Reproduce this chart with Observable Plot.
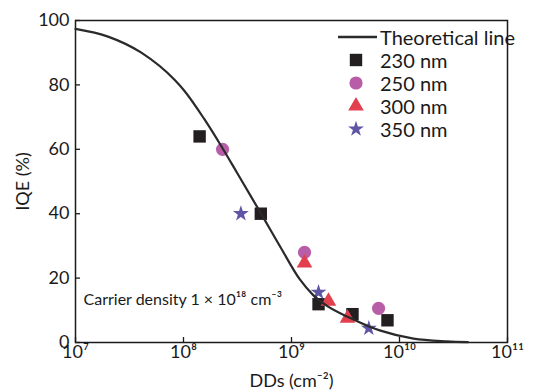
<!DOCTYPE html>
<html><head><meta charset="utf-8">
<script src="https://cdn.jsdelivr.net/npm/d3@7"></script>
<script src="https://cdn.jsdelivr.net/npm/@observablehq/plot@0.6"></script>
<style>
body{margin:0;background:#fff;font-family:Lato,"Liberation Sans",sans-serif;}
#wrap{position:relative;width:542px;height:392px;}
#legend{position:absolute;left:336px;top:25px;font-size:20px;color:#1a1a1a;}
.row{position:absolute;left:0;height:23px;display:flex;align-items:center;white-space:nowrap;}
.row svg{display:block;}
</style></head><body><div id="wrap"></div>
<script>
const xTicks = [1e7, 1e8, 1e9, 1e10, 1e11];
const xTickLabels = ["10⁷", "10⁸", "10⁹", "10¹⁰", "10¹¹"];
const yTicks = [0, 20, 40, 60, 80, 100];

const seriesNames = ["230 nm", "250 nm", "300 nm", "350 nm"];
const seriesSymbols = ["square", "circle", "triangle", "star"];
const seriesColors = ["#231f20", "#b85ea9", "#e2404e", "#5f55a6"];

const dd230 = [1.41e8, 5.2e8, 1.78e9, 3.67e9, 7.74e9];
const iqe230 = [64, 40, 11.9, 8.8, 6.9];
const dd250 = [2.3e8, 1.32e9, 6.4e9];
const iqe250 = [60, 28, 10.6];
const dd300 = [1.32e9, 2.2e9, 3.3e9];
const iqe300 = [24.7, 12.8, 7.5];
const dd350 = [3.4e8, 1.78e9, 5.2e9];
const iqe350 = [40, 15.6, 4.4];

const theoryDD  = [1e7, 2.0e7, 4.07e7, 8.3e7, 1e8, 1.55e8, 2.19e8, 3.16e8, 5.13e8, 7.94e8, 1.2e9, 1.58e9, 2.0e9, 3.55e9, 5.37e9, 6.67e9, 1.35e10, 2.75e10, 4.3e10];
const theoryIQE = [97.4, 95, 90, 81.5, 78.5, 69.5, 61.5, 52.5, 40.5, 29.5, 19.5, 14.8, 12, 7.5, 4.8, 3.7, 1.2, 0.35, 0.1];

const annotation = "Carrier density 1 × 10¹⁸ cm⁻³";

const toRows = (xs, ys) => xs.map((x, i) => ({x, y: ys[i]}));
const series = [toRows(dd230, iqe230), toRows(dd250, iqe250), toRows(dd300, iqe300), toRows(dd350, iqe350)];
const theory = toRows(theoryDD, theoryIQE);
const radii = [7.0, 6.6, 5.8, 5.0];

const W = 542, H = 392, mL = 75, mR = 35, mT = 20, mB = 50;
const plotW = W - mL - mR, plotH = H - mT - mB;

const chart = Plot.plot({
  width: W, height: H,
  marginLeft: mL, marginRight: mR, marginTop: mT, marginBottom: mB,
  style: {fontSize: "18px", fontFamily: "Lato, 'Liberation Sans', sans-serif", color: "#1a1a1a", background: "#fff"},
  x: {type: "log", domain: [1e7, 1e11]},
  y: {domain: [0, 100]},
  marks: [
    Plot.frame({stroke: "#1a1a1a", strokeWidth: 1.5}),
    Plot.tickX(xTicks, {x: d => d, insetTop: plotH - 5, stroke: "#1a1a1a", strokeWidth: 1.3}),
    Plot.tickY(yTicks, {y: d => d, insetRight: plotW - 5, stroke: "#1a1a1a", strokeWidth: 1.3}),
    Plot.axisX({ticks: xTicks, tickSize: 0, tickPadding: 3, tickFormat: d => xTickLabels[xTicks.indexOf(d)],
      label: "DDs (cm⁻²)", labelAnchor: "center", labelOffset: 44, labelArrow: "none"}),
    Plot.axisY({ticks: yTicks, tickSize: 0, tickPadding: 6, tickFormat: d => String(d),
      label: "IQE (%)", labelAnchor: "center", labelOffset: 59, labelArrow: "none"}),
    ...series.map((data, i) => Plot.dot(data, {x: "x", y: "y", symbol: () => seriesSymbols[i], r: radii[i], fill: seriesColors[i], stroke: "none"})),
    Plot.line(theory, {x: "x", y: "y", curve: "monotone-x", stroke: "#2a2a2a", strokeWidth: 2.2}),
    Plot.text([annotation], {frameAnchor: "bottom-left", dx: 8, dy: -38, textAnchor: "start", fontSize: 16})
  ]
});
const wrap = document.getElementById("wrap");
wrap.appendChild(chart);

// legend
const legend = document.createElement("div");
legend.id = "legend";
const rowH = 23;
const items = [{name: "Theoretical line", kind: "line"}].concat(seriesNames.map((n, i) => ({name: n, kind: seriesSymbols[i], color: seriesColors[i], r: radii[i]})));
items.forEach((it, i) => {
  const row = document.createElement("div");
  row.className = "row";
  row.style.top = (i * rowH) + "px";
  const s = d3.create("svg").attr("width", 44).attr("height", 22);
  if (it.kind === "line") {
    s.append("line").attr("x1", 2).attr("x2", 41).attr("y1", 11).attr("y2", 11).attr("stroke", "#2a2a2a").attr("stroke-width", 2.5);
  } else {
    const sym = {square: d3.symbolSquare, circle: d3.symbolCircle, triangle: d3.symbolTriangle, star: d3.symbolStar}[it.kind];
    s.append("path").attr("transform", "translate(20,11)").attr("d", d3.symbol(sym, Math.PI * it.r * it.r)()).attr("fill", it.color);
  }
  row.appendChild(s.node());
  const t = document.createElement("span");
  t.textContent = it.name;
  row.appendChild(t);
  legend.appendChild(row);
});
wrap.appendChild(legend);
</script></body></html>
